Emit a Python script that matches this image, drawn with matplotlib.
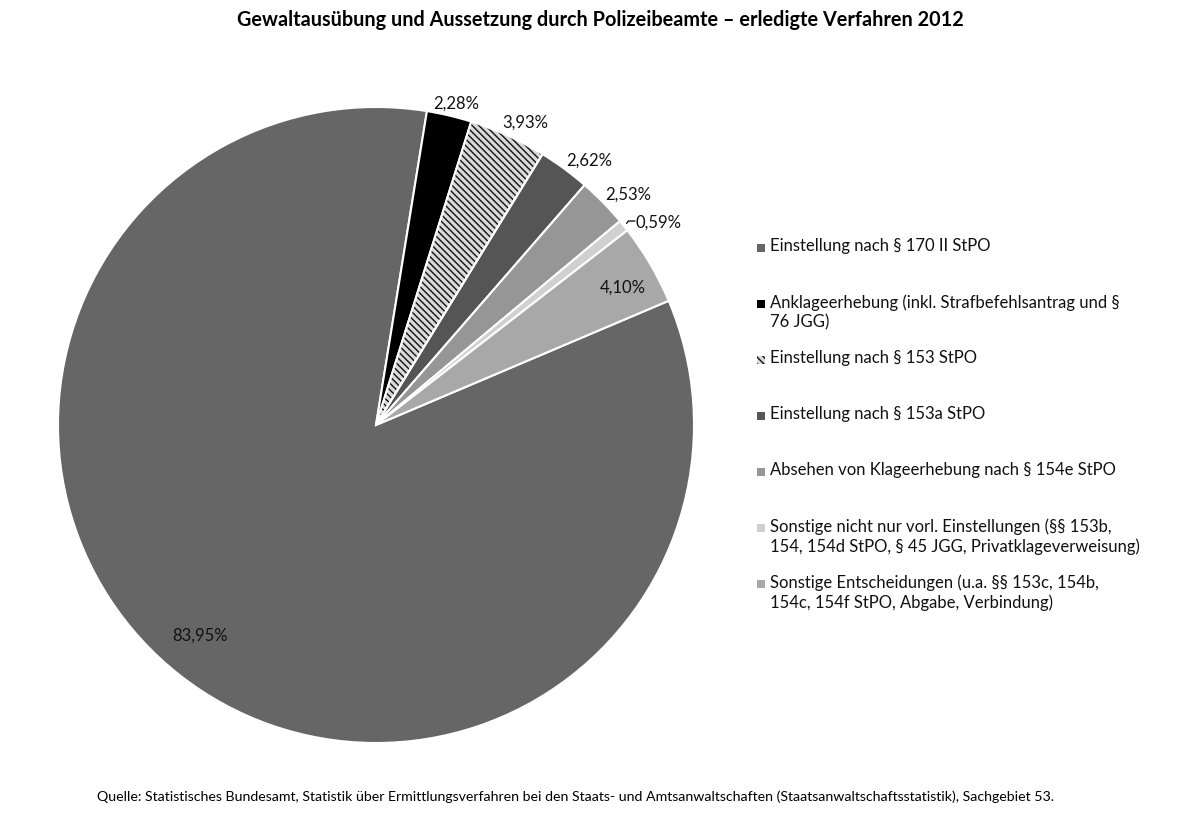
import matplotlib.pyplot as plt
import numpy as np
from matplotlib.patches import Wedge, Rectangle

plt.rcParams['font.family'] = ['Lato', 'DejaVu Sans']

# categories and shares (%)
labels = [
    "Einstellung nach § 170 II StPO",
    "Anklageerhebung (inkl. Strafbefehlsantrag und §\n76 JGG)",
    "Einstellung nach § 153 StPO",
    "Einstellung nach § 153a StPO",
    "Absehen von Klageerhebung nach § 154e StPO",
    "Sonstige nicht nur vorl. Einstellungen (§§ 153b,\n154, 154d StPO, § 45 JGG, Privatklageverweisung)",
    "Sonstige Entscheidungen (u.a. §§ 153c, 154b,\n154c, 154f StPO, Abgabe, Verbindung)",
]
shares = [83.95, 2.28, 3.93, 2.62, 2.53, 0.59, 4.10]
pct_text = ["83,95%", "2,28%", "3,93%", "2,62%", "2,53%", "0,59%", "4,10%"]

colors = ["#666666", "#000000", "#d9d9d9", "#555555", "#969696", "#d0d0d0", "#a8a8a8"]
# label placement: radial distance and clockwise angle shift (deg)
label_r = [0.86, 1.045, 1.065, 1.07, 1.076, 1.095, 0.89]
label_shift = [2.0, 0.7, 1.7, 2.4, 1.8, 3.0, 1.1]

W, H = 1200, 820
fig = plt.figure(figsize=(12, 8.2), dpi=100)

cx, cy, R = 376, 426, 318
ax = fig.add_axes([(cx - R) / W, (H - cy - R) / H, 2 * R / W, 2 * R / H])
wedges, _ = ax.pie(shares, colors=colors, startangle=23, counterclock=False,
                   radius=1, wedgeprops=dict(edgecolor="white", linewidth=1.5))
ax.set_xlim(-1, 1)
ax.set_ylim(-1, 1)
ax.set_aspect("equal")
ax.axis("off")

# hatched slice: black hatch, white outline on top
hw = wedges[2]
hw.set_hatch("\\\\\\\\\\")
hw.set_edgecolor("#111111")
hw.set_linewidth(0)
ax.add_patch(Wedge(hw.center, hw.r, hw.theta1, hw.theta2, facecolor="none",
                   edgecolor="white", linewidth=1.5))

for w, txt, d, s in zip(wedges, pct_text, label_r, label_shift):
    mid = np.deg2rad((w.theta1 + w.theta2) / 2 - s)
    x, y = d * np.cos(mid), d * np.sin(mid)
    ax.text(x, y, txt, ha="center", va="center", fontsize=12, color="#111111")

# small leader for 0,59%
w = wedges[5]
mid = np.deg2rad((w.theta1 + w.theta2) / 2)
p0 = np.array([1.012 * np.cos(mid), 1.012 * np.sin(mid)])
ax.plot([p0[0], p0[0] + 0.005, p0[0] + 0.025], [p0[1], p0[1] + 0.007, p0[1] + 0.007],
        color="black", linewidth=0.9, clip_on=False)

# legend drawn by hand to keep fixed slot spacing
for i, (w, lab) in enumerate(zip(wedges, labels)):
    ytop = 249 + 56 * i
    sq = Rectangle((757 / W, 1 - (ytop + 4) / H), 8 / W, 8 / H,
                   transform=fig.transFigure, facecolor=w.get_facecolor(),
                   edgecolor="none", linewidth=0, hatch=w.get_hatch())
    if w.get_hatch():
        sq.set_edgecolor("#111111")
    fig.patches.append(sq)
    fig.text(770 / W, 1 - (ytop - 11) / H, lab, ha="left", va="top",
             fontsize=12, color="#111111", linespacing=1.3)

fig.text(0.5, 1 - 20 / H, "Gewaltausübung und Aussetzung durch Polizeibeamte – erledigte Verfahren 2012",
         ha="center", va="center", fontsize=14.3, fontweight="bold")

fig.text(97 / W, 1 - 797 / H,
         "Quelle: Statistisches Bundesamt, Statistik über Ermittlungsverfahren bei den Staats- und "
         "Amtsanwaltschaften (Staatsanwaltschaftsstatistik), Sachgebiet 53.",
         ha="left", va="center", fontsize=10.2)

fig.savefig("out.png", dpi=100, facecolor="white")
